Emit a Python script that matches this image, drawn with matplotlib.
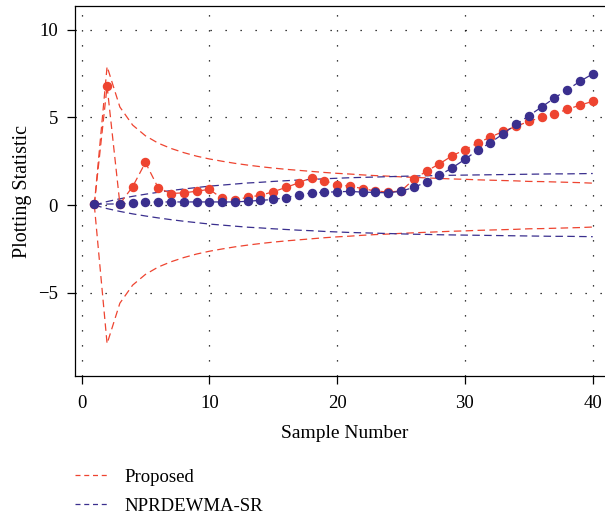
import matplotlib
matplotlib.use("Agg")
import matplotlib.pyplot as plt
from matplotlib.lines import Line2D

# sample numbers
samples = list(range(1, 41))
# NPRDEWMA-SR statistic has no point at sample 2
samples_sr = [1] + list(range(3, 41))

# plotting statistics
proposed = [0.05, 6.78, 0.07, 1.05, 2.43, 0.98, 0.66, 0.70, 0.79, 0.90,
            0.38, 0.28, 0.45, 0.56, 0.76, 1.01, 1.27, 1.57, 1.39, 1.16,
            1.08, 0.94, 0.80, 0.75, 0.80, 1.47, 1.94, 2.35, 2.81, 3.16,
            3.54, 3.88, 4.20, 4.49, 4.77, 5.00, 5.21, 5.45, 5.70, 5.91]
nprdewma_sr = [0.05, 0.07, 0.12, 0.18, 0.18, 0.18, 0.18, 0.18, 0.18,
               0.18, 0.18, 0.22, 0.27, 0.32, 0.43, 0.57, 0.70, 0.73, 0.76,
               0.78, 0.74, 0.72, 0.70, 0.79, 1.01, 1.32, 1.70, 2.12, 2.61,
               3.13, 3.56, 4.07, 4.60, 5.09, 5.59, 6.10, 6.57, 7.05, 7.48]

# control limits
ucl_proposed = [0.0, 7.90, 5.59, 4.56, 3.95, 3.53, 3.23, 2.99, 2.79, 2.63,
                2.50, 2.38, 2.28, 2.19, 2.11, 2.04, 1.98, 1.92, 1.86, 1.81,
                1.77, 1.72, 1.68, 1.65, 1.61, 1.58, 1.55, 1.52, 1.49, 1.47,
                1.44, 1.42, 1.40, 1.38, 1.35, 1.34, 1.32, 1.30, 1.28, 1.25]
lcl_proposed = [-v for v in ucl_proposed]
ucl_sr = [0.0, 0.20, 0.36, 0.50, 0.62, 0.73, 0.83, 0.92, 1.00, 1.08,
          1.14, 1.20, 1.26, 1.30, 1.35, 1.39, 1.43, 1.46, 1.50, 1.53,
          1.56, 1.58, 1.60, 1.62, 1.64, 1.66, 1.67, 1.69, 1.70, 1.71,
          1.72, 1.73, 1.74, 1.75, 1.76, 1.77, 1.78, 1.78, 1.79, 1.80]
lcl_sr = [-v for v in ucl_sr]

red = "#ee4430"
blue = "#3a2f8e"
dash = (0, (6, 3.5))

plt.rcParams["font.family"] = ["Liberation Serif", "DejaVu Serif"]

fig = plt.figure(figsize=(6.05, 5.19), dpi=100)
W, H = 605, 519
# x scale: 12.78 px per sample, axes runs just past the right edge
right_px = 614
ax = fig.add_axes([74.5 / W, (H - 376) / H, (right_px - 74.5) / W, (376 - 6.3) / H])

ax.plot(samples, ucl_proposed, color=red, lw=0.9, ls=dash)
ax.plot(samples, lcl_proposed, color=red, lw=0.9, ls=dash)
ax.plot(samples, ucl_sr, color=blue, lw=0.9, ls=dash)
ax.plot(samples, lcl_sr, color=blue, lw=0.9, ls=dash)

ax.plot(samples, proposed, color=red, lw=0.9, ls=dash,
        marker="o", ms=5.8, mec=red, mfc=red)
ax.plot(samples_sr, nprdewma_sr, color=blue, lw=0.9, ls=dash,
        marker="o", ms=5.8, mec=blue, mfc=blue)

ax.set_xlim(-0.55, -0.55 + (right_px - 74.5) / 12.78)
ax.set_ylim(-9.74, 11.33)
ax.set_xticks([0, 10, 20, 30, 40])
ax.set_yticks([-5, 0, 5, 10])
ax.set_yticklabels(["\u22125", "0", "5", "10"])
ax.grid(True, color="black", lw=0.9, ls=(0, (1, 11)))
ax.tick_params(direction="out", length=6, width=0.9, labelsize=13.5)
ax.tick_params(axis="x", pad=8)
ax.tick_params(axis="y", pad=6)
ax.spines["right"].set_visible(False)
for s in ax.spines.values():
    s.set_linewidth(0.9)

ax.set_xlabel("Sample Number", fontsize=14, labelpad=9)
ax.set_ylabel("Plotting Statistic", fontsize=14.5, labelpad=4)

handles = [Line2D([], [], color=red, lw=0.9, ls=(0, (4, 3))),
           Line2D([], [], color=blue, lw=0.9, ls=(0, (4, 3)))]
fig.legend(handles, ["Proposed", "NPRDEWMA-SR"], loc="upper left",
           bbox_to_anchor=(67 / W, 1 - 461 / H), frameon=False,
           fontsize=13.5, handlelength=1.9, handletextpad=0.75,
           labelspacing=0.65, borderaxespad=0.0)

fig.savefig("out.png", dpi=100)
